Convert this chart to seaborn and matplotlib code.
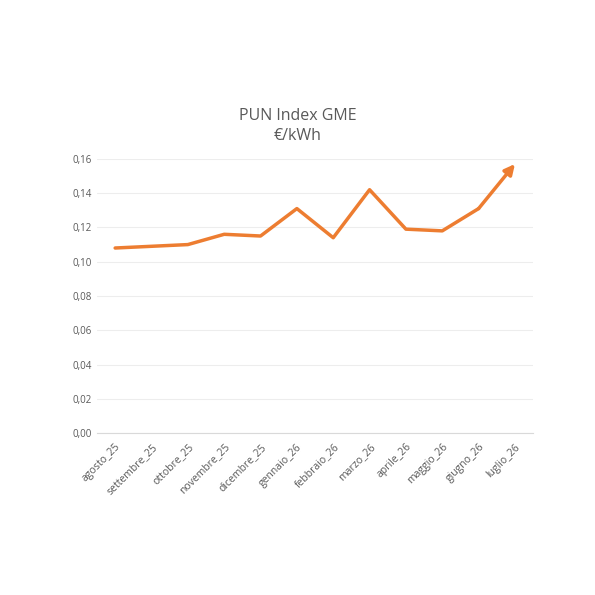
import matplotlib
matplotlib.use("Agg")
import matplotlib.pyplot as plt
import seaborn as sns
import numpy as np
import pandas as pd

months = ["agosto_25","settembre_25","ottobre_25","novembre_25","dicembre_25","gennaio_26",
          "febbraio_26","marzo_26","aprile_26","maggio_26","giugno_26","luglio_26"]
values = [0.108, 0.109, 0.110, 0.116, 0.115, 0.131, 0.114, 0.142, 0.119, 0.118, 0.131, 0.157]
yticks = [0.0, 0.02, 0.04, 0.06, 0.08, 0.10, 0.12, 0.14, 0.16]

sns.set_style("white")
plt.rcParams['font.family'] = ['Open Sans', 'DejaVu Sans']
fig = plt.figure(figsize=(5.95, 5.95), dpi=100)
ax = fig.add_axes([0.163, 0.272, 0.733, 0.461])
df = pd.DataFrame({"x": np.arange(len(months)), "y": values})
color = "#ED7D31"
sns.lineplot(data=df.iloc[:-1], x="x", y="y", ax=ax, color=color, linewidth=2.5)
ax.annotate("", xy=(df.x.iloc[-1], df.y.iloc[-1]), xytext=(df.x.iloc[-2], df.y.iloc[-2]),
            arrowprops=dict(arrowstyle="-|>,head_length=0.6,head_width=0.3", color=color, lw=2.5,
                            shrinkA=0, shrinkB=0))
ax.set_xlim(-0.5, len(months) - 0.5)
ax.set_ylim(0, 0.16)
ax.set_yticks(yticks)
ax.set_yticklabels([f"{v:.2f}".replace(".", ",") for v in yticks], fontsize=7, color="#595959")
ax.set_xticks(range(len(months)))
ax.set_xticklabels(months, rotation=45, ha="right", rotation_mode="anchor", fontsize=7.5, color="#595959")
ax.set_xticks(np.arange(-0.5, len(months), 1), minor=True)
ax.tick_params(axis="x", which="major", length=0, pad=6)
ax.tick_params(axis="x", which="minor", length=4, color="#D9D9D9", direction="out")
ax.tick_params(axis="y", length=0)
ax.grid(axis="y", color="#EDEDED", linewidth=0.8)
for s in ["top", "right", "left"]:
    ax.spines[s].set_visible(False)
ax.spines["bottom"].set_color("#D9D9D9")
ax.set_xlabel(""); ax.set_ylabel("")
fig.text(0.50, 0.788, "PUN Index GME\n€/kWh", ha="center", va="center", fontsize=11.5,
         color="#595959", linespacing=1.3)
fig.savefig("out.png", dpi=100)
